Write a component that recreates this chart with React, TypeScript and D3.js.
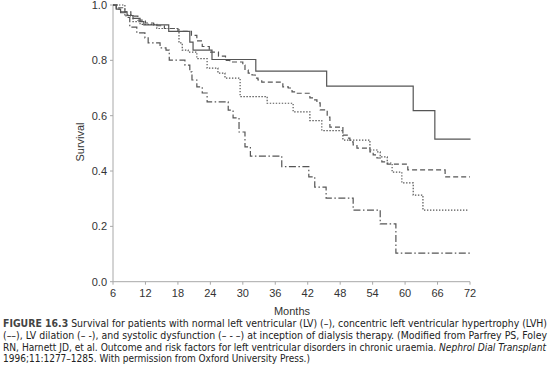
import React from "react";
import * as d3 from "d3";

// Kaplan–Meier step data: [month, survival]
const normalLV: [number, number][] = [
  [6, 1.0], [6.6, 0.985], [7.4, 0.975], [8.6, 0.962], [9.7, 0.952], [11, 0.94],
  [11.7, 0.928], [16.3, 0.905], [20.2, 0.866], [20.8, 0.837], [24.3, 0.803],
  [32.4, 0.761], [45.5, 0.707], [61.5, 0.618], [65.5, 0.515], [72.1, 0.515],
];
const concentricLVH: [number, number][] = [
  [6, 1.0], [7, 0.99], [8.2, 0.975], [9.3, 0.96], [10.6, 0.945], [12, 0.935],
  [13.5, 0.925], [15.5, 0.915], [18, 0.905], [20.5, 0.89], [21.5, 0.87],
  [22.5, 0.85], [23.8, 0.83], [25.5, 0.815], [26.8, 0.8], [27.6, 0.794],
  [30.0, 0.783], [30.4, 0.765], [31.0, 0.754], [31.7, 0.747], [32.3, 0.736],
  [32.8, 0.729], [33.5, 0.721], [37.4, 0.704], [38.4, 0.7], [39.1, 0.686],
  [39.7, 0.681], [42.4, 0.664], [43.0, 0.657], [43.7, 0.646], [44.3, 0.621],
  [45.6, 0.595], [46.1, 0.559], [48.5, 0.53], [49.3, 0.519], [49.8, 0.505],
  [50.4, 0.494], [51.1, 0.483], [53.5, 0.469], [54.1, 0.458], [54.8, 0.447],
  [55.7, 0.433], [56.7, 0.425], [60.5, 0.404], [67.4, 0.379], [72, 0.379],
];
const lvDilation: [number, number][] = [
  [6, 1.0], [8.2, 0.964], [9.7, 0.94], [11, 0.93], [14.1, 0.915],
  [18.2, 0.863], [18.8, 0.837], [19.9, 0.83], [21.5, 0.806], [23.4, 0.772],
  [25.4, 0.754], [26.7, 0.736], [29.5, 0.669], [34.5, 0.645], [39.3, 0.614],
  [42.4, 0.582], [44.6, 0.546], [48.5, 0.512], [53.5, 0.476], [54.8, 0.469],
  [55.4, 0.451], [56.7, 0.429], [57.6, 0.396], [59.4, 0.357], [61.5, 0.313],
  [63.3, 0.259], [71.6, 0.259],
];
const systolicDysfunction: [number, number][] = [
  [6, 1.0], [6.6, 0.985], [7.4, 0.972], [8.4, 0.955], [9.1, 0.92],
  [10.4, 0.899], [11.9, 0.881], [12.5, 0.863], [14.7, 0.845], [15.8, 0.837],
  [16.4, 0.801], [19.3, 0.783], [20.2, 0.758], [20.6, 0.729], [21.5, 0.704],
  [22.5, 0.682], [23.4, 0.65], [27.3, 0.62], [28.2, 0.592], [29.3, 0.541],
  [30.4, 0.487], [31.4, 0.454], [37.2, 0.416], [42.2, 0.379], [43.3, 0.342],
  [45.4, 0.302], [50.4, 0.259], [55.4, 0.209], [58.3, 0.103], [72, 0.103],
];

const xTicks = [6, 12, 18, 24, 30, 36, 42, 48, 54, 60, 66, 72];
const yTicks = [0, 0.2, 0.4, 0.6, 0.8, 1.0];

const series = [
  { name: "Normal LV", data: normalLV, dash: "none" },
  { name: "Concentric LVH", data: concentricLVH, dash: "5,3" },
  { name: "LV dilation", data: lvDilation, dash: "1.4,1.6" },
  { name: "Systolic dysfunction", data: systolicDysfunction, dash: "7,2.5,1.5,2.5" },
];

const captionFont = "'Liberation Sans Narrow', 'DejaVu Sans Condensed', 'Roboto Condensed', sans-serif";

export default function App() {
  const x = d3.scaleLinear().domain([6, 72]).range([113, 470]);
  const y = d3.scaleLinear().domain([0, 1]).range([281.7, 5]);
  const line = d3
    .line<[number, number]>()
    .x((d) => x(d[0]))
    .y((d) => y(d[1]))
    .curve(d3.curveStepAfter);
  const fmt = d3.format(".1f");
  const axisColor = "#a8a8a8";
  const labelColor = "#333";
  const tickFont = "'Liberation Sans', Arial, sans-serif";

  return (
    <svg
      width={550}
      height={384}
      style={{ position: "absolute", left: 0, top: 0, background: "#fff" }}
    >
      {/* axes */}
      <line x1={x(6)} x2={x(6)} y1={y(1)} y2={y(0)} stroke={axisColor} strokeWidth={1} />
      <line x1={x(6)} x2={x(72)} y1={y(0)} y2={y(0)} stroke={axisColor} strokeWidth={1} />
      {yTicks.map((t) => (
        <g key={"y" + t}>
          <line x1={x(6) - 3} x2={x(6)} y1={y(t)} y2={y(t)} stroke={axisColor} />
          <text
            x={x(6) - 6}
            y={y(t)}
            dy="0.36em"
            textAnchor="end"
            fontFamily={tickFont}
            fontSize={11}
            fill={labelColor}
          >
            {fmt(t)}
          </text>
        </g>
      ))}
      {xTicks.map((t) => (
        <g key={"x" + t}>
          <line x1={x(t)} x2={x(t)} y1={y(0)} y2={y(0) + 3} stroke={axisColor} />
          <text
            x={x(t)}
            y={297}
            textAnchor="middle"
            fontFamily={tickFont}
            fontSize={11}
            fill={labelColor}
          >
            {t}
          </text>
        </g>
      ))}
      <text
        x={292}
        y={314.5}
        textAnchor="middle"
        fontFamily={tickFont}
        fontSize={11}
        fill={labelColor}
      >
        Months
      </text>
      <text
        transform="translate(84,142) rotate(-90)"
        textAnchor="middle"
        fontFamily={tickFont}
        fontSize={11}
        fill={labelColor}
      >
        Survival
      </text>

      {/* curves */}
      {series.map((s) => (
        <path
          key={s.name}
          d={line(s.data) || ""}
          fill="none"
          stroke="#555"
          strokeWidth={1.2}
          strokeDasharray={s.dash}
        />
      ))}

      {/* caption */}
      <g fontFamily={captionFont} fontSize={10} fill="#222">
        <text x={3} y={327} textLength={544} lengthAdjust="spacingAndGlyphs">
          <tspan fontWeight="bold" fill="#444">FIGURE 16.3</tspan>
          <tspan> Survival for patients with normal left ventricular (LV) (–), concentric left ventricular hypertrophy (LVH)</tspan>
        </text>
        <text x={3} y={339} textLength={544} lengthAdjust="spacingAndGlyphs">
          (––), LV dilation (– -), and systolic dysfunction (– - –) at inception of dialysis therapy. (Modified from Parfrey PS, Foley
        </text>
        <text x={3} y={350.5} textLength={543} lengthAdjust="spacingAndGlyphs">
          <tspan>RN, Harnett JD, et al. Outcome and risk factors for left ventricular disorders in chronic uraemia. </tspan>
          <tspan fontStyle="italic">Nephrol Dial Transplant</tspan>
        </text>
        <text x={3} y={362} textLength={307} lengthAdjust="spacingAndGlyphs">
          1996;11:1277–1285. With permission from Oxford University Press.)
        </text>
      </g>
    </svg>
  );
}
